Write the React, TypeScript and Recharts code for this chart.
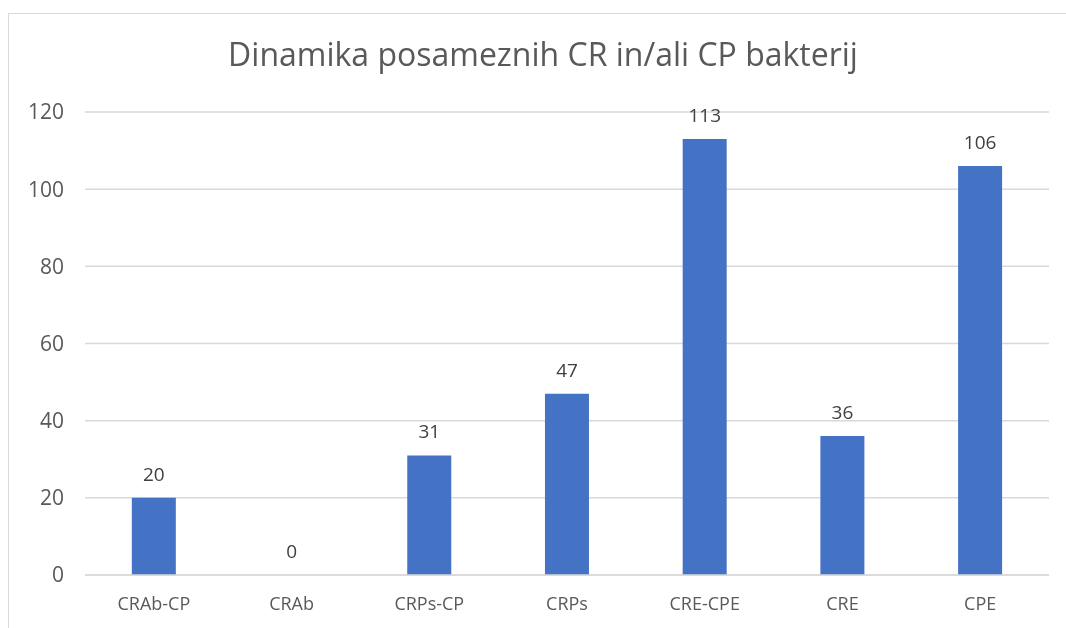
import { ComposedChart, Bar, Line, XAxis, YAxis, CartesianGrid, LabelList } from "recharts";

const categories = ["CRAb-CP", "CRAb", "CRPs-CP", "CRPs", "CRE-CPE", "CRE", "CPE"];
const counts = [20, 0, 31, 47, 113, 36, 106];
const yTicks = [0, 20, 40, 60, 80, 100, 120];

const data = categories.map((name, i) => ({ name, count: counts[i] }));

const FONT = '"Open Sans", sans-serif';
const TEXT = "#595959";
const GRID = "#d9d9d9";

export default function App() {
  return (
    <div
      style={{
        position: "fixed",
        top: 13,
        left: 8,
        right: -10,
        bottom: -10,
        borderTop: `1px solid ${GRID}`,
        borderLeft: `1px solid ${GRID}`,
        fontFamily: FONT,
        overflow: "hidden",
      }}
    >
      <div
        style={{
          position: "absolute",
          top: 24,
          left: 0,
          width: 1057,
          paddingLeft: 11,
          boxSizing: "border-box",
          textAlign: "center",
          fontSize: 32,
          lineHeight: "32px",
          color: TEXT,
        }}
      >
        Dinamika posameznih CR in/ali CP bakterij
      </div>
      <ComposedChart
        width={1057}
        height={606}
        data={data}
        margin={{ top: 98, right: 17, left: 0, bottom: 0 }}
        barCategoryGap="34%"
        style={{ position: "absolute", top: 0, left: 0 }}
      >
        <CartesianGrid vertical={false} stroke={GRID} strokeWidth={1.5} />
        <XAxis
          dataKey="name"
          height={45}
          tickLine={false}
          tickSize={0}
          tickMargin={22}
          axisLine={{ stroke: GRID, strokeWidth: 1.5 }}
          tick={{ fontSize: 18, fill: TEXT, fontFamily: FONT }}
          interval={0}
        />
        <YAxis
          width={76}
          domain={[0, 120]}
          ticks={yTicks}
          tickLine={false}
          tickSize={0}
          tickMargin={21}
          axisLine={false}
          tick={{ fontSize: 21, fill: TEXT, fontFamily: FONT }}
        />
        <Bar dataKey="count" fill="#4472C4" isAnimationActive={false} />
        <Line
          dataKey="count"
          stroke="none"
          dot={false}
          activeDot={false}
          legendType="none"
          isAnimationActive={false}
        >
          <LabelList
            dataKey="count"
            position="top"
            offset={17}
            style={{ fontSize: 19, fill: "#404040", fontFamily: FONT }}
          />
        </Line>
      </ComposedChart>
    </div>
  );
}
